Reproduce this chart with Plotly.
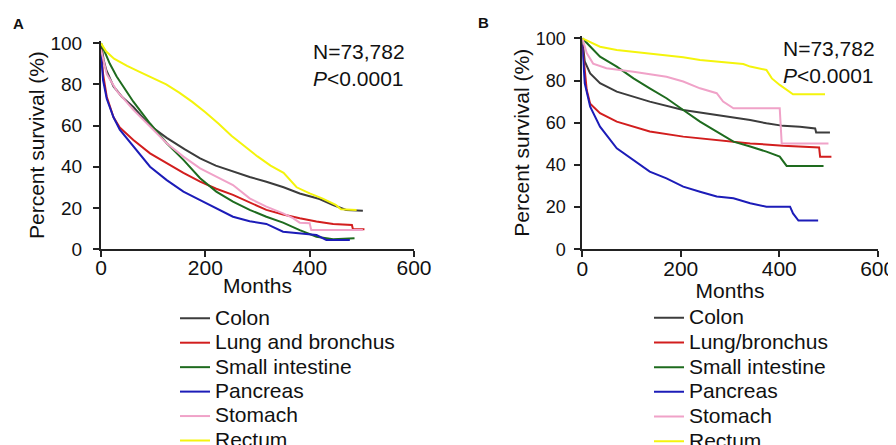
import plotly.graph_objects as go

# categories + colours
sites_a = ["Colon", "Lung and bronchus", "Small intestine", "Pancreas", "Stomach", "Rectum"]
sites_b = ["Colon", "Lung/bronchus", "Small intestine", "Pancreas", "Stomach", "Rectum"]
colors = ["#3c3c3c", "#d21e1e", "#1e6b1e", "#1c1cb8", "#f0a2c8", "#f4f40c"]

# panel A survival curves (months, percent)
colon_a_m = [0, 5, 10, 24, 40, 62, 94, 126, 160, 190, 220, 253, 285, 317, 350, 381, 419, 445, 470, 502]
colon_a_s = [100, 92, 87, 79, 74, 69, 60, 54, 48.5, 44, 40.5, 37.6, 35, 32.7, 30, 27, 24.3, 21.4, 19, 18.6]
lung_a_m = [0, 4, 11, 24, 36, 62, 94, 126, 158, 190, 221, 253, 285, 317, 349, 381, 413, 445, 481, 483, 505]
lung_a_s = [97, 85, 74, 64, 59, 53, 46.5, 41.7, 37, 32.7, 29.3, 26.3, 22.5, 19, 16.8, 14.9, 13.4, 12.2, 11.7, 9.6, 9.6]
small_a_m = [0, 17, 30, 62, 94, 126, 158, 190, 221, 253, 285, 317, 349, 381, 413, 445, 486]
small_a_s = [100, 90, 83.8, 71.6, 61, 51.4, 43.3, 34.4, 27.9, 23, 19, 15.7, 12.8, 9.2, 6, 4.7, 5.2]
panc_a_m = [0, 4, 11, 24, 36, 62, 94, 126, 158, 190, 221, 253, 285, 317, 349, 381, 413, 432, 477]
panc_a_s = [95, 82, 73, 64, 58, 49.8, 40, 33.5, 27.9, 23.8, 19.8, 15.7, 13.5, 12.2, 8.4, 7.6, 6.8, 4.4, 4.4]
stom_a_m = [0, 11, 30, 62, 94, 126, 158, 190, 221, 253, 285, 317, 349, 368, 381, 400, 403, 502]
stom_a_s = [97, 85, 77, 67.6, 59.5, 51.4, 44.9, 39.2, 35.2, 31.1, 24.6, 20.6, 17.3, 15, 12.8, 12.5, 9.2, 9.2]
rect_a_m = [0, 10, 25, 50, 75, 100, 125, 150, 175, 200, 225, 250, 275, 300, 325, 350, 375, 400, 425, 450, 460, 490]
rect_a_s = [100, 96, 92.5, 89, 86, 83, 80, 76, 71.5, 66.5, 61, 55, 50, 45, 40.5, 37, 30, 27, 24.5, 21.4, 19.3, 19]

# panel B survival curves (months, percent)
colon_b_m = [0, 5, 16, 36, 70, 137, 205, 273, 341, 374, 408, 442, 473, 475, 503]
colon_b_s = [100, 89, 83.4, 78.7, 74.7, 70, 66, 63.7, 61.3, 59.7, 58.5, 58.1, 57.3, 55.4, 55.4]
lung_b_m = [0, 9, 16, 36, 70, 137, 205, 273, 341, 408, 481, 483, 506]
lung_b_s = [97, 75.5, 69, 64.5, 60.5, 55.8, 53.4, 51.8, 50.2, 49.1, 48.3, 43.9, 43.9]
small_b_m = [0, 36, 70, 104, 137, 171, 205, 239, 273, 307, 341, 374, 401, 415, 490]
small_b_s = [100, 91.3, 86.6, 81, 76.3, 71.6, 66, 60.5, 55.8, 51, 48.7, 46.3, 43.9, 39.5, 39.5]
panc_b_m = [0, 5, 16, 36, 70, 104, 137, 171, 205, 239, 273, 307, 341, 374, 422, 428, 439, 479]
panc_b_s = [97, 78.7, 67.6, 58.1, 47.9, 42.3, 36.8, 33.6, 29.7, 27.3, 25, 24.2, 21.8, 20.2, 20.2, 17, 13.6, 13.6]
stom_b_m = [0, 9, 22, 49, 104, 171, 205, 239, 273, 286, 307, 401, 405, 500]
stom_b_s = [100, 93, 88, 85.8, 84.2, 81.8, 79.5, 76.3, 74, 70, 66.8, 66.8, 50.2, 50.2]
rect_b_m = [0, 36, 70, 137, 205, 239, 273, 327, 341, 374, 385, 401, 428, 493]
rect_b_s = [100, 96, 94.5, 92.9, 91, 89.7, 88.9, 87.8, 86.6, 85, 81, 77.9, 73.5, 73.5]

curves_a = [(colon_a_m, colon_a_s), (lung_a_m, lung_a_s), (small_a_m, small_a_s),
            (panc_a_m, panc_a_s), (stom_a_m, stom_a_s), (rect_a_m, rect_a_s)]
curves_b = [(colon_b_m, colon_b_s), (lung_b_m, lung_b_s), (small_b_m, small_b_s),
            (panc_b_m, panc_b_s), (stom_b_m, stom_b_s), (rect_b_m, rect_b_s)]

x_ticks = [0, 200, 400, 600]
y_ticks = [0, 20, 40, 60, 80, 100]
stats_text = "N=73,782<br><i>P</i>&lt;0.0001"

FONT = "Liberation Sans, Arial, sans-serif"
W, H = 896, 445
OFF = 8  # page body margin pushes the figure down/right


def xp(px):
    return (px - OFF) / W


def yp(py):
    return 1 - (py - OFF) / H


def label(name):
    # bigger text than the legend font so rows stay tight
    return '<span style="font-size:21px">' + name + '</span>'


fig = go.Figure()

for name, col, (m, s) in zip(sites_a, colors, curves_a):
    fig.add_trace(go.Scatter(x=m, y=s, mode="lines", name=label(name),
                             line=dict(color=col, width=2), xaxis="x", yaxis="y",
                             legend="legend"))
for name, col, (m, s) in zip(sites_b, colors, curves_b):
    fig.add_trace(go.Scatter(x=m, y=s, mode="lines", name=label(name),
                             line=dict(color=col, width=2), xaxis="x2", yaxis="y2",
                             legend="legend2"))

ax = dict(showline=True, linewidth=2, linecolor="#222", ticks="outside", ticklen=6,
          tickwidth=2, tickcolor="#222", showgrid=False, zeroline=False, automargin=False)

fig.update_layout(
    width=W, height=H,
    margin=dict(l=0, r=0, t=0, b=0, autoexpand=False),
    paper_bgcolor="white", plot_bgcolor="white",
    font=dict(family=FONT, color="#111"),
    xaxis=dict(ax, domain=[xp(101), xp(414)], range=[0, 600], tickvals=x_ticks, anchor="y",
               tickfont=dict(size=21), ticklabelstandoff=-7,
               title=dict(text="Months", font=dict(size=21), standoff=0)),
    yaxis=dict(ax, domain=[yp(249), yp(41.2)], range=[0, 101], tickvals=y_ticks, anchor="x",
               tickfont=dict(size=19), ticklabelstandoff=7,
               title=dict(text="Percent survival (%)", font=dict(size=21), standoff=0)),
    xaxis2=dict(ax, domain=[xp(582.3), xp(877.7)], range=[0, 600], tickvals=x_ticks, anchor="y2",
                tickfont=dict(size=21), ticklabelstandoff=-7,
                title=dict(text="Months", font=dict(size=21), standoff=2)),
    yaxis2=dict(ax, domain=[yp(249.3), yp(36.2)], range=[0, 101], tickvals=y_ticks, anchor="x2",
                tickfont=dict(size=18), ticklabelstandoff=5,
                title=dict(text="Percent survival (%)", font=dict(size=21), standoff=0)),
    legend=dict(x=0.1864, y=0.3415, xanchor="left", yanchor="top", font=dict(size=16.5),
                itemwidth=30, bgcolor="rgba(0,0,0,0)", tracegroupgap=0),
    legend2=dict(x=0.7154, y=0.3430, xanchor="left", yanchor="top", font=dict(size=16.7),
                 itemwidth=30, bgcolor="rgba(0,0,0,0)", tracegroupgap=0),
    showlegend=True,
)

for txt, px, py in [("<b>A</b>", 10, 16), ("<b>B</b>", 475, 15)]:
    fig.add_annotation(text=txt, x=px / W, y=1 - py / H, xref="paper", yref="paper",
                       showarrow=False, font=dict(size=15, color="#111"),
                       xanchor="center", yanchor="middle")

for left, mid in [(303, 57), (773, 54)]:
    fig.add_annotation(text=stats_text, x=left / W, y=1 - mid / H, xref="paper",
                       yref="paper", showarrow=False, xanchor="left", yanchor="middle",
                       align="left", font=dict(size=21))

fig.write_html("out.html")
